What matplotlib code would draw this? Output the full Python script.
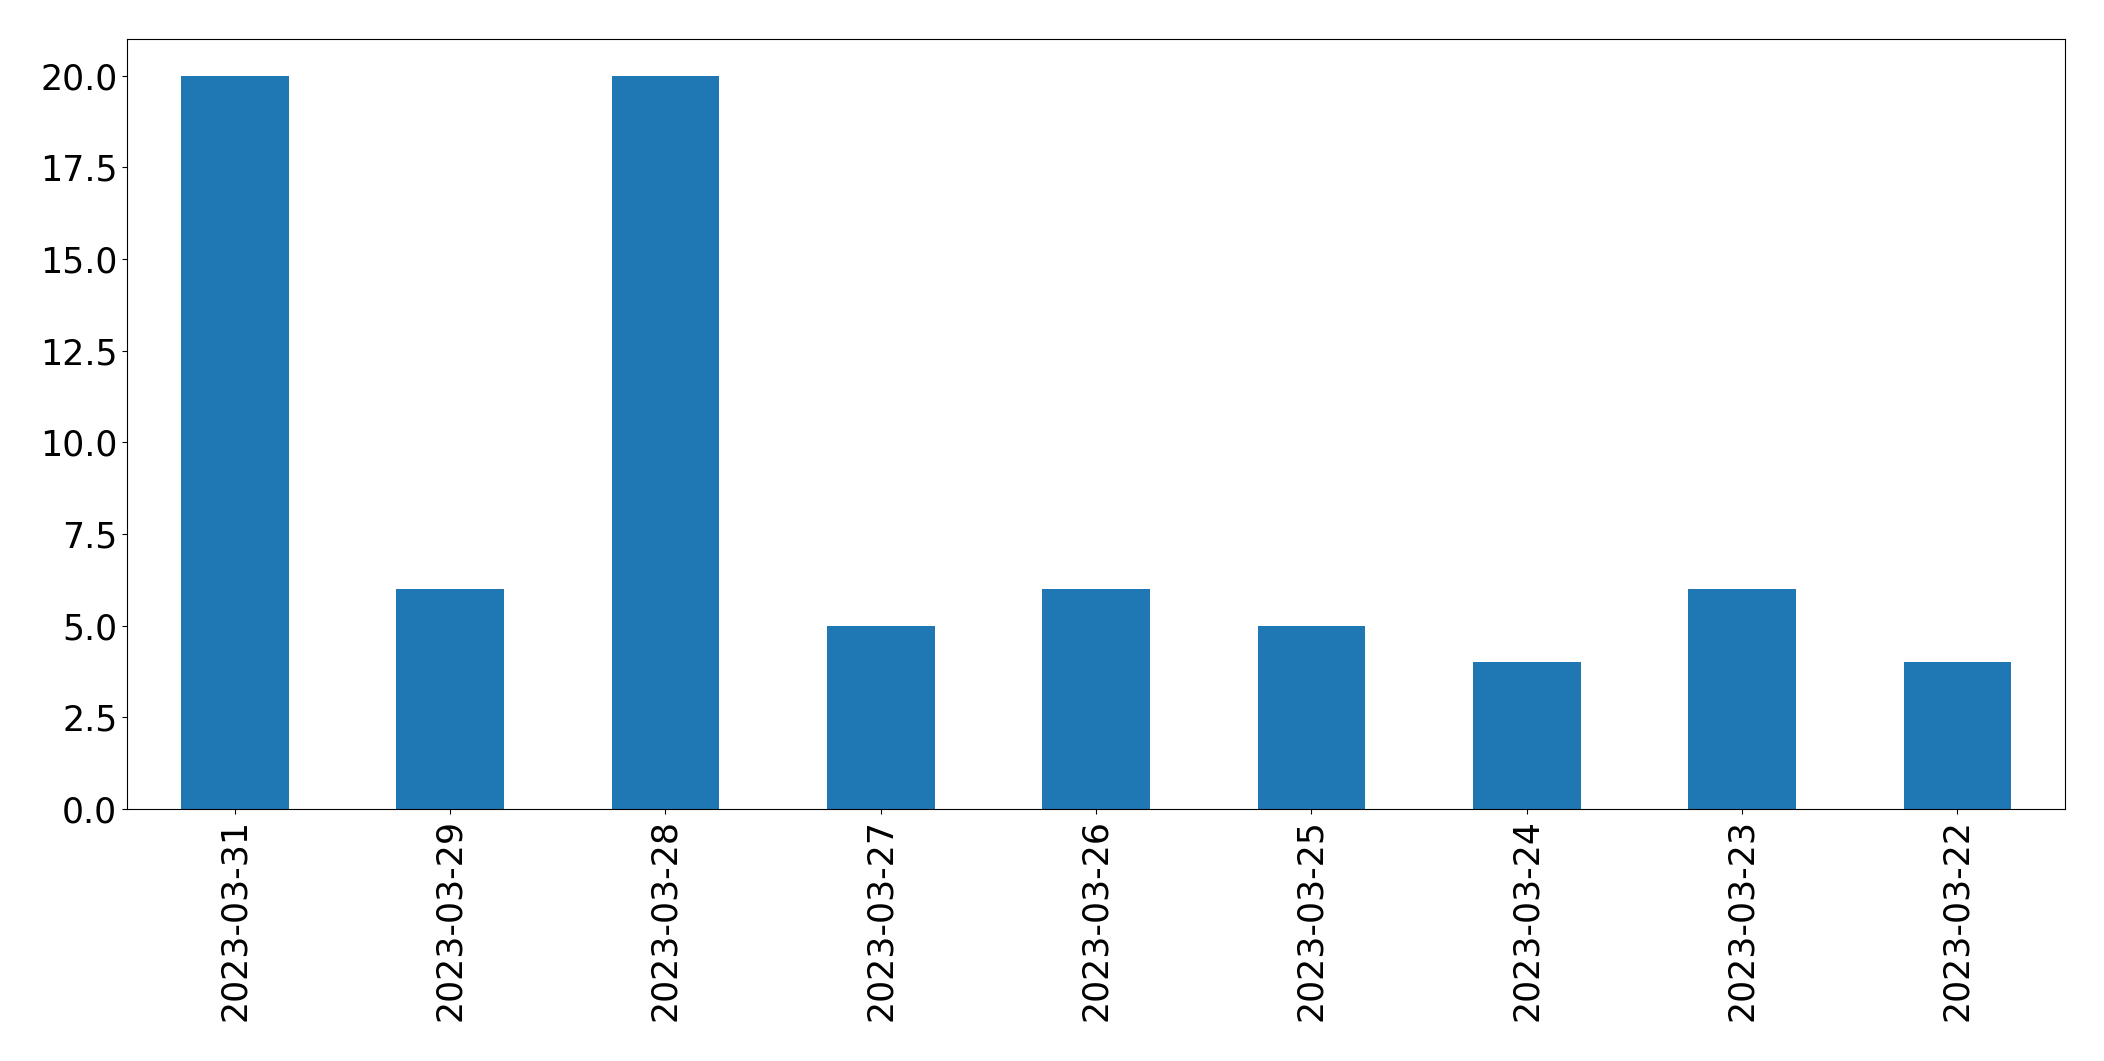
import pandas as pd
import matplotlib
matplotlib.use('Agg')
import matplotlib.pyplot as plt

# Datos del gráfico
fechas = ['2023-03-31', '2023-03-29', '2023-03-28', '2023-03-27', '2023-03-26',
          '2023-03-25', '2023-03-24', '2023-03-23', '2023-03-22']
cantidades = [20, 6, 20, 5, 6, 5, 4, 6, 4]

serie = pd.Series(cantidades, index=fechas)

fig, ax = plt.subplots(figsize=(21.04, 10.61), dpi=100)
serie.plot(kind='bar', ax=ax, color='#1f77b4')
ax.tick_params(axis='both', labelsize=25)
fig.subplots_adjust(left=0.0604, right=0.9815, top=0.9632, bottom=0.2375)

fig.savefig('out.png', dpi=100)
